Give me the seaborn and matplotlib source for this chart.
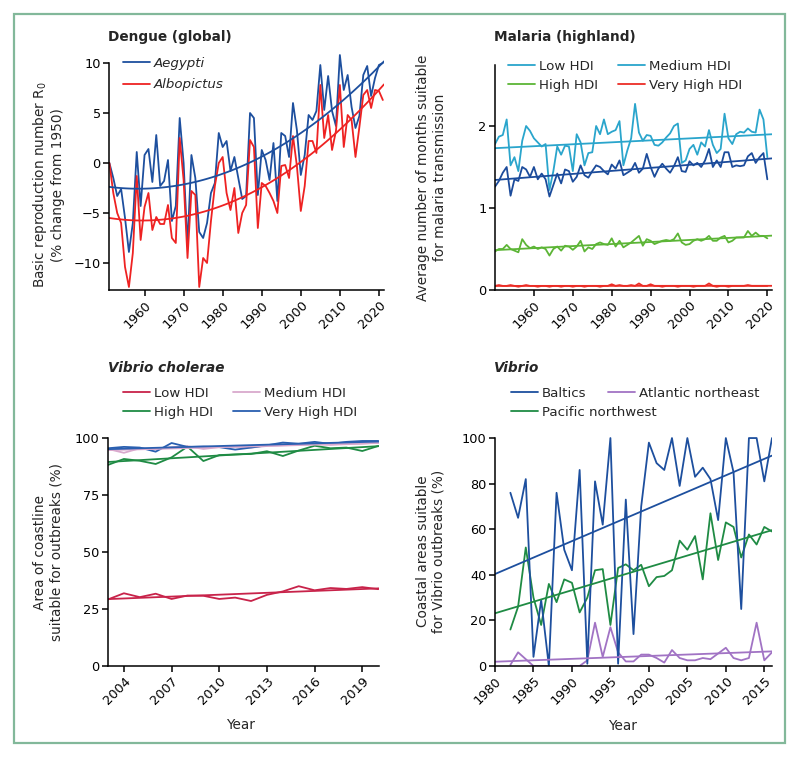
import matplotlib
matplotlib.use('Agg')
import matplotlib.pyplot as plt
from matplotlib.lines import Line2D
from matplotlib.patches import Rectangle
import numpy as np
import pandas as pd
import seaborn as sns

sns.set_style('ticks')
plt.rcParams['font.family'] = ['DejaVu Sans']

# ---------------- data ----------------
dengue_years = list(range(1951, 2022))
aegypti = [0, -1.5, -3.3, -2.6, -5.5, -8.9, -6.0, 1.1, -4.3, 0.8,
           1.4, -1.9, 2.8, -2.3, -1.8, 0.3, -5.8, -4.3, 4.5, 0.0,
           -8.3, 0.8, -1.5, -6.9, -7.5, -6.0, -3.0, -2.0, 3.0, 1.6,
           2.2, -0.8, 0.6, -1.5, -3.6, -3.3, 5.0, 4.5, -3.2, 1.3,
           0.3, -1.7, 2.0, -3.8, 3.0, 2.7, 0.6, 6.0, 3.3, -1.2,
           0.8, 4.8, 4.3, 5.2, 9.8, 5.3, 8.7, 5.2, 3.7, 10.8,
           7.3, 8.8, 5.6, 3.5, 4.7, 8.8, 9.7, 6.7, 8.5, 9.8,
           10.0]
albopictus = [0, -3.0, -5.0, -6.0, -10.4, -12.4, -9.0, -1.3, -7.7, -4.4,
              -3.0, -6.7, -5.4, -6.1, -6.1, -4.2, -7.5, -8.0, 2.5, -1.7,
              -9.5, -2.8, -3.2, -12.4, -9.5, -10.0, -5.8, -2.3, 0.0, 0.6,
              -3.0, -4.7, -2.5, -7.0, -5.0, -4.2, 2.3, 1.6, -6.5, -2.0,
              -2.3, -3.0, -3.8, -5.0, -0.3, -0.2, -1.5, 2.7, -0.3, -4.8,
              -2.3, 2.2, 2.2, 1.0, 7.8, 2.5, 4.8, 1.3, 3.2, 7.8,
              1.6, 4.8, 4.3, 0.6, 3.6, 6.8, 7.3, 5.5, 7.3, 7.2,
              6.3]

malaria_years = list(range(1950, 2021))
mal_low = [1.78, 1.87, 1.89, 2.08, 1.52, 1.62, 1.45, 1.82, 2.0, 1.94,
           1.85, 1.8, 1.75, 1.78, 1.22, 1.45, 1.75, 1.65, 1.76, 1.75,
           1.45, 1.9, 1.8, 1.52, 1.67, 1.68, 2.0, 1.9, 2.08, 1.9,
           1.93, 1.95, 2.06, 1.52, 1.7, 1.85, 2.27, 1.92, 1.82, 1.89,
           1.88, 1.77, 1.76, 1.8, 1.86, 1.91, 2.0, 2.03, 1.55, 1.58,
           1.72, 1.77, 1.65, 1.8, 1.75, 1.95, 1.77, 1.67, 1.72, 2.15,
           1.85, 1.78, 1.9, 1.93, 1.92, 1.97, 1.93, 1.92, 2.2, 2.08,
           1.62]
mal_medium = [1.26, 1.33, 1.43, 1.5, 1.15, 1.35, 1.33, 1.5, 1.47, 1.38,
              1.5, 1.35, 1.42, 1.35, 1.14, 1.28, 1.42, 1.3, 1.47, 1.45,
              1.32, 1.38, 1.52, 1.4, 1.37, 1.45, 1.52, 1.5, 1.45, 1.41,
              1.53, 1.48, 1.58, 1.4, 1.43, 1.46, 1.55, 1.43, 1.48, 1.66,
              1.5, 1.38, 1.48, 1.54, 1.48, 1.43, 1.51, 1.62, 1.45, 1.44,
              1.57, 1.52, 1.55, 1.5, 1.58, 1.72, 1.5, 1.58, 1.5, 1.68,
              1.68, 1.5, 1.52, 1.51, 1.52, 1.63, 1.67, 1.55, 1.62, 1.67,
              1.35]
mal_high = [0.47, 0.5, 0.5, 0.55, 0.5, 0.48, 0.46, 0.62, 0.55, 0.51,
            0.53, 0.5, 0.52, 0.5, 0.42, 0.5, 0.53, 0.48, 0.54, 0.53,
            0.49, 0.53, 0.6, 0.47, 0.52, 0.5, 0.56, 0.58, 0.56, 0.55,
            0.63, 0.53, 0.6, 0.52, 0.55, 0.58, 0.62, 0.66, 0.54, 0.62,
            0.6, 0.56, 0.58, 0.6, 0.61, 0.6, 0.62, 0.69, 0.58, 0.55,
            0.56, 0.6, 0.62, 0.6, 0.62, 0.66, 0.6, 0.6, 0.64, 0.66,
            0.58, 0.6, 0.64, 0.64, 0.64, 0.72, 0.66, 0.7, 0.66, 0.66,
            0.63]
mal_veryhigh = [0.05, 0.06, 0.05, 0.05, 0.06, 0.05, 0.04, 0.05, 0.06, 0.05,
                0.05, 0.04, 0.05, 0.05, 0.04, 0.05, 0.05, 0.04, 0.05, 0.05,
                0.04, 0.05, 0.05, 0.04, 0.05, 0.05, 0.05, 0.04, 0.05, 0.05,
                0.07, 0.05, 0.06, 0.05, 0.05, 0.06, 0.05, 0.08, 0.05, 0.05,
                0.07, 0.05, 0.05, 0.04, 0.05, 0.05, 0.05, 0.04, 0.05, 0.05,
                0.05, 0.04, 0.05, 0.05, 0.05, 0.08, 0.05, 0.04, 0.05, 0.05,
                0.04, 0.05, 0.05, 0.05, 0.05, 0.06, 0.05, 0.05, 0.05, 0.05,
                0.05]

cholerae_years = list(range(2003, 2021))
vc_low = [29.2, 31.9, 30.2, 31.7, 29.4, 30.9, 30.8, 29.4, 30.0, 28.5,
          31.2, 32.7, 35.0, 33.2, 34.2, 33.8, 34.6, 33.7]
vc_medium = [95.2, 93.5, 95.5, 95.0, 96.0, 96.4, 95.2, 96.0, 96.2, 95.8,
             96.5, 96.8, 97.0, 97.4, 97.0, 97.3, 97.5, 98.0]
vc_high = [88.2, 90.8, 90.0, 88.6, 91.5, 96.2, 89.9, 92.5, 92.8, 93.0,
           94.2, 92.1, 94.5, 96.6, 95.5, 95.8, 94.3, 96.5]
vc_veryhigh = [95.5, 96.1, 95.8, 94.0, 97.8, 96.1, 96.2, 96.0, 94.9, 95.8,
               96.8, 98.0, 97.5, 98.3, 97.4, 98.3, 98.7, 98.7]

vibrio_years = list(range(1982, 2017))
baltics = [76, 65, 82, 4, 29, 0, 76, 51, 42, 86,
           1, 81, 62, 100, 1, 73, 14, 70, 98, 89,
           86, 100, 79, 100, 83, 87, 82, 64, 100, 85,
           25, 100, 100, 81, 100]
pacific_nw = [16, 26, 52, 30, 18, 36, 28, 38, 36.5, 23.5,
              30, 42, 42.5, 18, 43, 44.6, 42, 44.4, 35, 39,
              39.5, 42, 55, 51, 57, 38, 67, 46.5, 63, 61,
              47.6, 57.7, 53.3, 61, 59]
atlantic_ne = [0.5, 6, 3, 0, 0, 0, 0, 0, 0, 0,
               2.5, 19, 4, 17, 6, 2, 2, 5, 5, 3.5,
               1.5, 7, 3.5, 2.5, 2.5, 3.5, 3, 5.5, 8, 3.5,
               2.5, 3.5, 19, 2.5, 6]

# ---------------- figure ----------------
W, H = 800, 758
fig = plt.figure(figsize=(W / 100, H / 100), dpi=100)
fig.add_artist(Rectangle((14 / W, 1 - 743 / H), 771 / W, 729 / H,
                         transform=fig.transFigure, fill=False,
                         edgecolor='#82b89a', lw=1.6))

FS = 9.3
LW = 1.3


def px_axes(l, t, r, b):
    return fig.add_axes([l / W, 1 - b / H, (r - l) / W, (b - t) / H])


def style(ax):
    sns.despine(ax=ax)
    for s in ('left', 'bottom'):
        ax.spines[s].set_linewidth(1.1)
        ax.spines[s].set_color('black')
    ax.tick_params(length=4, width=1.1, labelsize=FS, colors='black', pad=2)
    ax.set_xlabel('')
    ax.set_ylabel('')


def draw(ax, years, series, colors, order=1):
    df = pd.concat([pd.DataFrame({'year': years, 'value': v, 'series': k})
                    for k, v in series.items()])
    sns.lineplot(data=df, x='year', y='value', hue='series', palette=colors,
                 legend=False, lw=LW, ax=ax)
    for k, v in series.items():
        sns.regplot(x=np.array(years, float), y=np.array(v, float), order=order,
                    scatter=False, ci=None, truncate=False, ax=ax,
                    line_kws={'color': colors[k], 'lw': LW})


def legend_col(labels, colors, x, y, italic=False, spacing=0.45):
    handles = [Line2D([], [], color=c, lw=LW) for c in colors]
    prop = {'size': FS + 0.3}
    if italic:
        prop['style'] = 'italic'
    fig.legend(handles, labels, loc='upper left', bbox_to_anchor=(x / W, 1 - y / H),
               frameon=False, borderpad=0, borderaxespad=0, handlelength=2.0,
               handletextpad=0.3, labelspacing=spacing, prop=prop)


def title(x, y, text, **kw):
    fig.text(x / W, 1 - y / H, text, fontsize=FS + 0.5, fontweight='bold',
             ha='left', va='center', **kw)


# Dengue
ax1 = px_axes(109, 51, 384, 290)
ax1.set_xlim(1950.9, 2021.3)
ax1.set_ylim(-12.7, 11.2)
dengue_colors = {'Aegypti': '#1d4f9e', 'Albopictus': '#ee2222'}
draw(ax1, dengue_years, {'Aegypti': aegypti, 'Albopictus': albopictus}, dengue_colors, order=2)
ax1.set_xlim(1950.9, 2021.3)
ax1.set_ylim(-12.7, 11.2)
style(ax1)
ax1.spines['left'].set_bounds(-12.7, 10)
ax1.set_xticks(range(1960, 2021, 10))
ax1.set_yticks([-10, -5, 0, 5, 10])
ax1.set_ylabel('Basic reproduction number R$_0$\n(% change from 1950)', fontsize=FS + 0.5)
ax1.yaxis.set_label_coords(-0.16, 0.44)
legend_col(['Aegypti', 'Albopictus'], list(dengue_colors.values()), 123, 57, italic=True, spacing=0.62)
title(108, 37, 'Dengue (global)')

# Malaria
ax2 = px_axes(495, 65, 772, 290)
ax2.set_xlim(1950, 2021.2)
ax2.set_ylim(0, 2.744)
mal_colors = {'Low HDI': '#2aa5cc', 'Medium HDI': '#1b4b9b',
              'High HDI': '#5cb536', 'Very High HDI': '#ec2d26'}
draw(ax2, malaria_years, {'Low HDI': mal_low, 'Medium HDI': mal_medium,
                          'High HDI': mal_high, 'Very High HDI': mal_veryhigh}, mal_colors)
ax2.set_xlim(1950, 2021.2)
ax2.set_ylim(0, 2.744)
style(ax2)
ax2.set_xticks(range(1960, 2021, 10))
ax2.set_yticks([0, 1, 2])
ax2.set_ylabel('Average number of months suitable\nfor malaria transmission', fontsize=FS + 0.5)
ax2.yaxis.set_label_coords(-0.175, 0.5)
legend_col(['Low HDI', 'High HDI'], ['#2aa5cc', '#5cb536'], 508, 59.5, spacing=0.5)
legend_col(['Medium HDI', 'Very High HDI'], ['#2aa5cc', '#ec2d26'], 618, 59.5, spacing=0.5)
title(494, 37, 'Malaria (highland)')

for ax in (ax1, ax2):
    for lab in ax.get_xticklabels():
        lab.set_rotation(45)
        lab.set_ha('right')
        lab.set_rotation_mode('anchor')

# Vibrio cholerae
ax3 = px_axes(108, 438, 379, 666)
ax3.set_xlim(2003, 2020.05)
ax3.set_ylim(0, 100)
vc_colors = {'Low HDI': '#c8234a', 'Medium HDI': '#d9a9cd',
             'High HDI': '#1f8b44', 'Very High HDI': '#2a5fb0'}
draw(ax3, cholerae_years, {'Medium HDI': vc_medium, 'High HDI': vc_high,
                           'Very High HDI': vc_veryhigh, 'Low HDI': vc_low}, vc_colors)
ax3.set_xlim(2003, 2020.05)
ax3.set_ylim(0, 100)
style(ax3)
ax3.set_xticks(range(2004, 2020, 3))
ax3.set_yticks([0, 25, 50, 75, 100])
ax3.set_ylabel('Area of coastline\nsuitable for outbreaks (%)', fontsize=FS + 0.5)
ax3.yaxis.set_label_coords(-0.166, 0.5)
ax3.set_xlabel('Year', fontsize=FS + 0.5)
ax3.xaxis.set_label_coords(0.487, -0.23)
legend_col(['Low HDI', 'High HDI'], [vc_colors['Low HDI'], vc_colors['High HDI']], 123, 387)
legend_col(['Medium HDI', 'Very High HDI'], [vc_colors['Medium HDI'], vc_colors['Very High HDI']], 233, 387)
title(108, 368, 'Vibrio cholerae', style='italic')

# Vibrio
ax4 = px_axes(495, 436, 772, 666)
ax4.set_xlim(1980, 2016)
ax4.set_ylim(0, 100.9)
vib_colors = {'Baltics': '#1d4f9e', 'Atlantic northeast': '#a173c4',
              'Pacific northwest': '#1f8b44'}
draw(ax4, vibrio_years, {'Atlantic northeast': atlantic_ne, 'Pacific northwest': pacific_nw,
                         'Baltics': baltics}, vib_colors)
ax4.set_xlim(1980, 2016)
ax4.set_ylim(0, 100.9)
style(ax4)
ax4.spines['left'].set_bounds(0, 100)
ax4.set_xticks(range(1980, 2016, 5))
ax4.set_yticks(range(0, 101, 20))
ax4.set_ylabel('Coastal areas suitable\nfor Vibrio outbreaks (%)', fontsize=FS + 0.5)
ax4.yaxis.set_label_coords(-0.177, 0.5)
ax4.set_xlabel('Year', fontsize=FS + 0.5)
ax4.xaxis.set_label_coords(0.46, -0.23)
legend_col(['Baltics', 'Pacific northwest'], [vib_colors['Baltics'], vib_colors['Pacific northwest']], 511, 387)
legend_col(['Atlantic northeast'], [vib_colors['Atlantic northeast']], 608, 387)
title(494, 368, 'Vibrio', style='italic')

for ax in (ax3, ax4):
    for lab in ax.get_xticklabels():
        lab.set_rotation(45)
        lab.set_ha('right')
        lab.set_rotation_mode('anchor')

fig.savefig('out.png', dpi=100)
